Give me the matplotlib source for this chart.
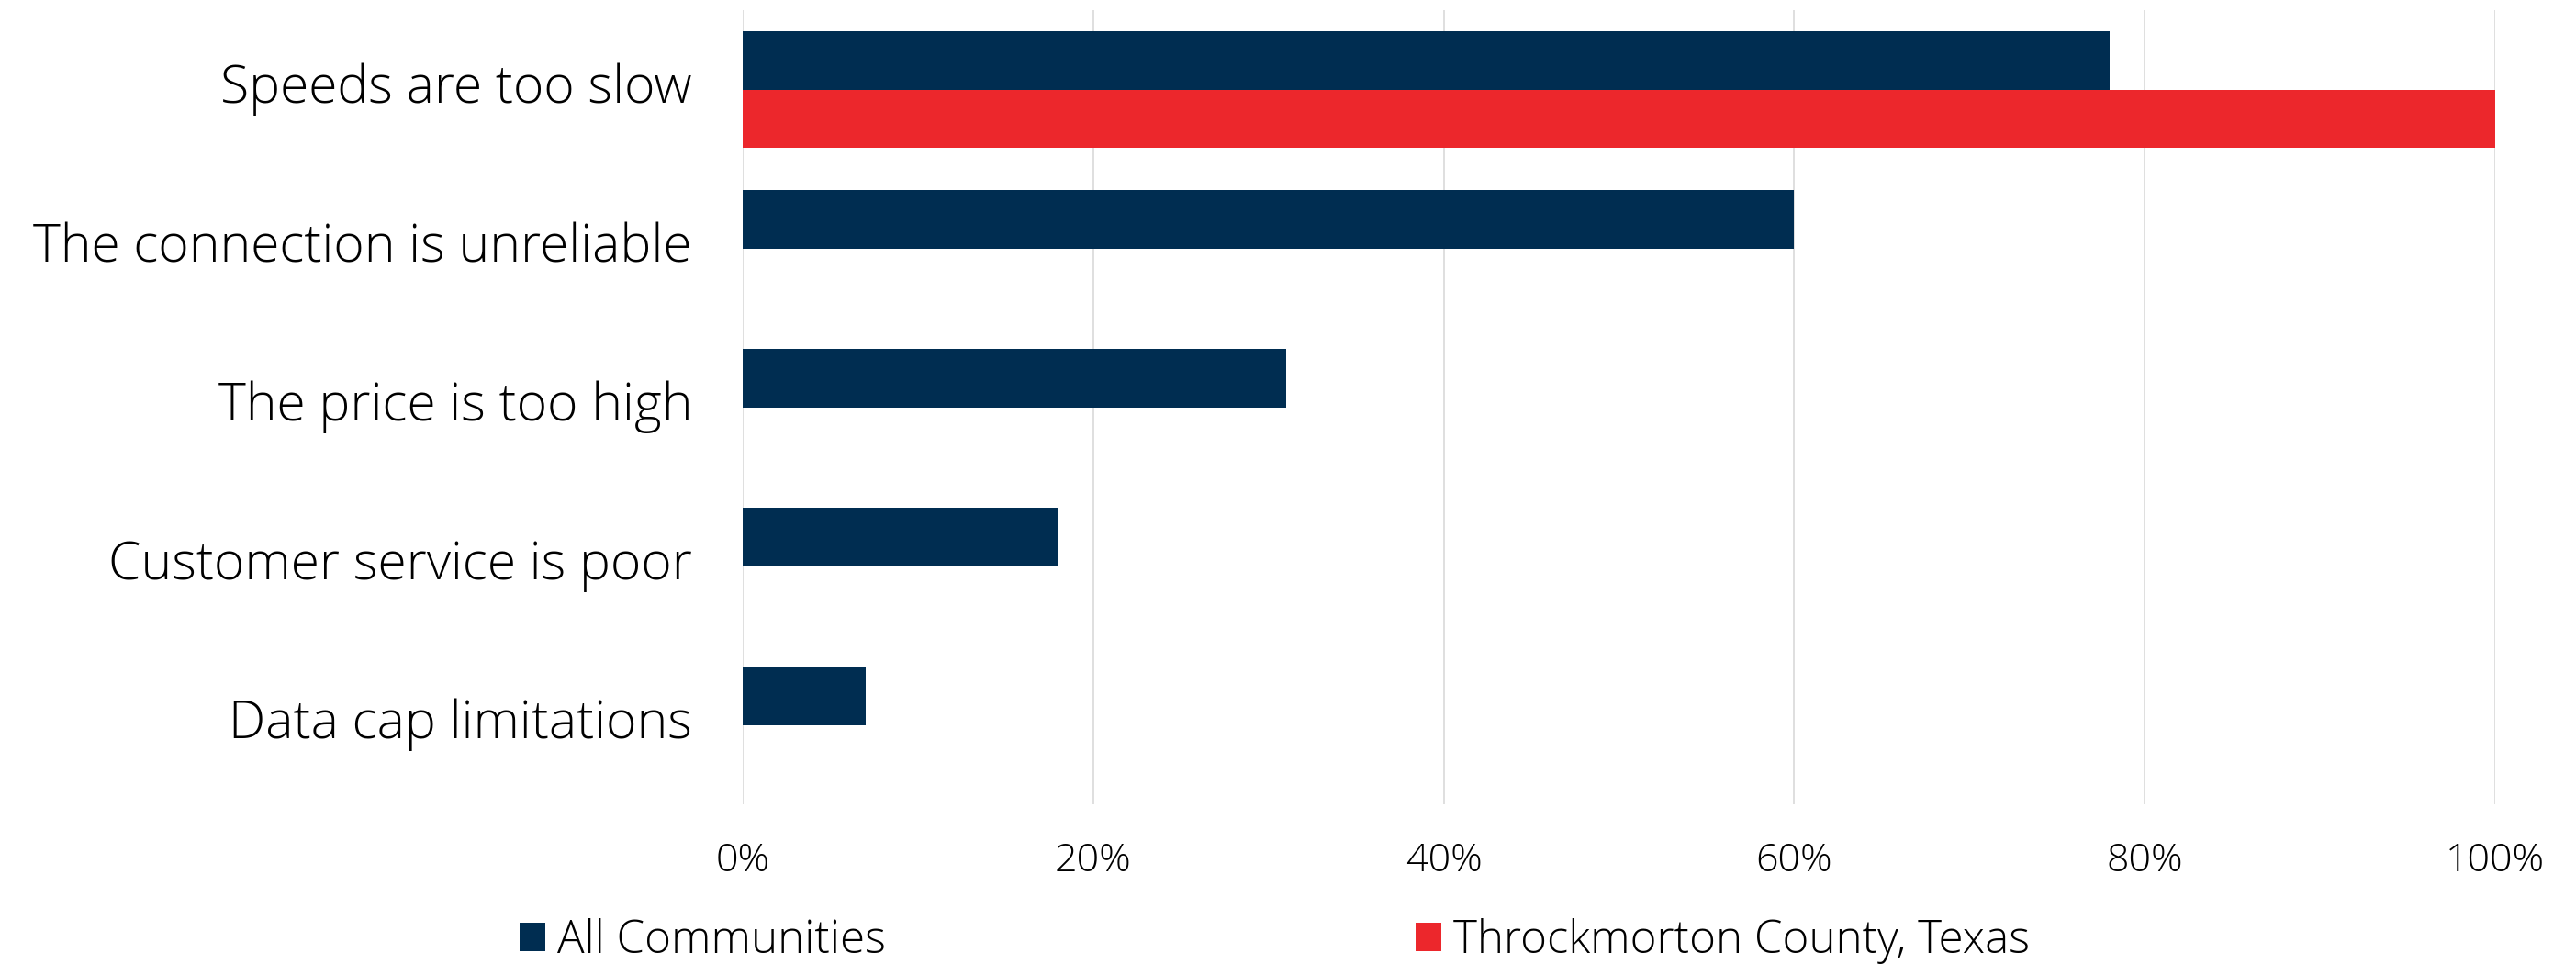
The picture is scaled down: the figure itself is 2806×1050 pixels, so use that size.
import numpy as np
import matplotlib
matplotlib.use("Agg")
import matplotlib.pyplot as plt
from matplotlib.patches import Patch
from matplotlib.ticker import PercentFormatter

# survey answers, top to bottom
categories = [
    "Speeds are too slow",
    "The connection is unreliable",
    "The price is too high",
    "Customer service is poor",
    "Data cap limitations",
]
all_communities = [78, 60, 31, 18, 7]
throckmorton = [100, 0, 0, 0, 0]

series_names = ["All Communities", "Throckmorton County, Texas"]
navy = "#002D51"
red = "#EC272C"

plt.rcParams["font.family"] = ["Open Sans", "DejaVu Sans"]
plt.rcParams["font.weight"] = "light"

fig = plt.figure(figsize=(28.06, 10.5), dpi=100)
ax = fig.add_axes([809 / 2806, 1 - 876 / 1050, (2718 - 809) / 2806, (876 - 11) / 1050])

y = np.arange(len(categories))
h = 0.366
ax.barh(y - h / 2, all_communities, height=h, color=navy, linewidth=0, zorder=3)
ax.barh(y + h / 2, throckmorton, height=h, color=red, linewidth=0, zorder=3)

ax.set_xlim(0, 100)
ax.set_ylim(len(categories) - 0.5, -0.5)
ax.set_xticks(np.arange(0, 101, 20))
ax.xaxis.set_major_formatter(PercentFormatter(decimals=0))
ax.set_yticks(y)
ax.set_yticklabels(categories)
for lbl in ax.get_yticklabels():
    lbl.set_verticalalignment("center")

ax.tick_params(axis="y", length=0, pad=39.6, labelsize=41)
ax.tick_params(axis="x", length=0, pad=29.5, labelsize=31)
ax.grid(axis="x", color="#d9d9d9", linewidth=1.2, zorder=0)
for s in ax.spines.values():
    s.set_visible(False)

handles = [Patch(facecolor=navy), Patch(facecolor=red)]
fig.legend(handles, series_names, ncol=2, loc="center left",
           bbox_to_anchor=(566 / 2806, 1 - 1025 / 1050), frameon=False,
           fontsize=35.5, handlelength=0.57, handleheight=0.57,
           handletextpad=0.26, columnspacing=11.7,
           borderpad=0, borderaxespad=0)

fig.savefig("out.png", dpi=100, facecolor="white")
